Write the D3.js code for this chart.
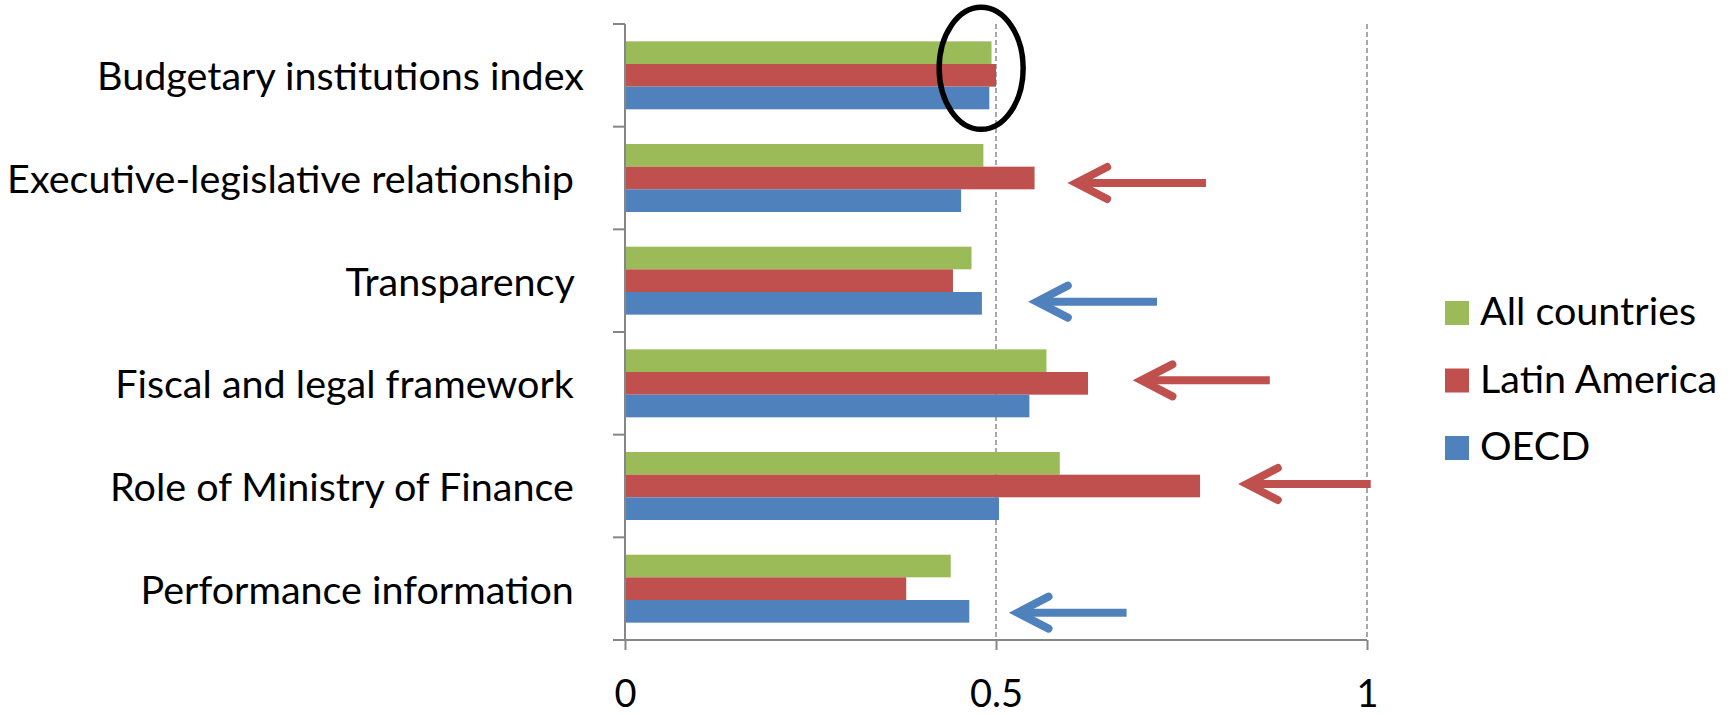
<!DOCTYPE html>
<html>
<head>
<meta charset="utf-8">
<script src="https://cdn.jsdelivr.net/npm/d3@7"></script>
<style>
  body { margin: 0; background: #fff; }
  svg { display: block; font-family: Lato, 'Open Sans', sans-serif; }
  text { white-space: pre; }
</style>
</head>
<body>
<div id="chart"></div>
<script>
// ── Data ──────────────────────────────────────────────────────────────────
const categories = [
  'Budgetary institutions index',
  'Executive-legislative relationship ',
  'Transparency ',
  'Fiscal and legal framework ',
  'Role of Ministry of Finance ',
  'Performance information '
]
const seriesNames = ['All countries', 'Latin America', 'OECD']
const allCountries = [0.494, 0.483, 0.467, 0.568, 0.586, 0.439]
const latinAmerica = [0.500, 0.552, 0.442, 0.624, 0.775, 0.379]
const oecd = [0.491, 0.453, 0.481, 0.545, 0.504, 0.464]
const xTicks = [0, 0.5, 1]

// arrows drawn next to bars: category index, colour of series, tip / tail value
const arrows = [
  { cat: 1, series: 'Latin America', tip: 0.608, tail: 0.783, dy: 5 },
  { cat: 2, series: 'OECD', tip: 0.555, tail: 0.717, dy: 21 },
  { cat: 3, series: 'Latin America', tip: 0.696, tail: 0.869, dy: -3 },
  { cat: 4, series: 'Latin America', tip: 0.838, tail: 1.005, dy: -2 },
  { cat: 5, series: 'OECD', tip: 0.529, tail: 0.676, dy: 24 }
]

const colors = { 'All countries': '#9BBB59', 'Latin America': '#C0504D', 'OECD': '#4F81BD' }
const values = { 'All countries': allCountries, 'Latin America': latinAmerica, 'OECD': oecd }

// ── Layout ────────────────────────────────────────────────────────────────
const W = 1731, H = 715
const axisColor = '#868686'
const x = d3.scaleLinear().domain([0, 1]).range([625, 1367])
const y = d3.scaleBand().domain(categories).range([24, 640]).padding(0)
const bw = y.bandwidth()
const inner = d3.scaleBand().domain(seriesNames).range([bw * 0.169, bw * 0.831])

const svg = d3.select('#chart').append('svg').attr('width', W).attr('height', H)

// gridlines
svg.append('g').selectAll('line')
  .data(xTicks.filter(d => d > 0))
  .join('line')
  .attr('x1', d => x(d)).attr('x2', d => x(d))
  .attr('y1', y.range()[0]).attr('y2', y.range()[1])
  .attr('stroke', '#8c8c8c').attr('stroke-width', 1.5).attr('stroke-dasharray', '5,3')

// bars
const rows = []
categories.forEach((c, i) => seriesNames.forEach(s => rows.push({ cat: c, series: s, value: values[s][i] })))
svg.append('g').selectAll('rect')
  .data(rows)
  .join('rect')
  .attr('x', x(0))
  .attr('y', d => y(d.cat) + inner(d.series))
  .attr('width', d => x(d.value) - x(0))
  .attr('height', inner.bandwidth())
  .attr('fill', d => colors[d.series])

// y axis
const yAxis = svg.append('g')
yAxis.append('line')
  .attr('x1', x(0)).attr('x2', x(0))
  .attr('y1', y.range()[0]).attr('y2', y.range()[1])
  .attr('stroke', axisColor).attr('stroke-width', 2)
const bounds = categories.map(c => y(c)).concat([y.range()[1]])
yAxis.selectAll('.tick')
  .data(bounds)
  .join('line')
  .attr('x1', x(0) - 12).attr('x2', x(0))
  .attr('y1', d => d).attr('y2', d => d)
  .attr('stroke', axisColor).attr('stroke-width', 2)
yAxis.selectAll('text')
  .data(categories)
  .join('text')
  .attr('x', 584)
  .attr('y', d => y(d) + bw / 2)
  .attr('dy', '0.38em')
  .attr('text-anchor', 'end')
  .style('font-size', '39.5px')
  .attr('fill', '#000')
  .text(d => d)

// x axis
const xAxis = svg.append('g').attr('transform', `translate(0,${y.range()[1]})`)
  .call(d3.axisBottom(x).tickValues(xTicks).tickFormat(d3.format('')).tickSize(10).tickPadding(30))
xAxis.select('.domain').remove()
xAxis.selectAll('.tick line').attr('stroke', axisColor).attr('stroke-width', 2)
xAxis.selectAll('.tick text').style('font-size', '38px').style('font-family', 'Lato, sans-serif').attr('fill', '#000')
xAxis.append('line')
  .attr('x1', x(0) - 12).attr('x2', x(1))
  .attr('y1', 0).attr('y2', 0)
  .attr('stroke', axisColor).attr('stroke-width', 2)

// annotation arrows
const ag = svg.append('g').attr('fill', 'none').attr('stroke-width', 8)
arrows.forEach(a => {
  const yy = y(categories[a.cat]) + bw / 2 + a.dy
  const tipX = x(a.tip), tailX = x(a.tail)
  const g = ag.append('g').attr('stroke', colors[a.series])
  g.append('line').attr('x1', tailX).attr('x2', tipX + 4).attr('y1', yy).attr('y2', yy)
  g.append('path')
    .attr('d', `M${tipX + 31},${yy - 16} L${tipX},${yy} L${tipX + 31},${yy + 16}`)
    .attr('stroke-linecap', 'round').attr('stroke-linejoin', 'miter')
})

// ellipse highlight on first category
svg.append('ellipse')
  .attr('cx', x(0.48))
  .attr('cy', y(categories[0]) + bw / 2 - 7)
  .attr('rx', 42).attr('ry', 61)
  .attr('fill', 'none').attr('stroke', '#000').attr('stroke-width', 5.5)

// legend
const leg = svg.append('g')
seriesNames.forEach((s, i) => {
  const base = 325 + i * 67.5
  leg.append('rect').attr('x', 1445).attr('y', base - 24).attr('width', 24).attr('height', 24).attr('fill', colors[s])
  leg.append('text').attr('x', 1480).attr('y', base).style('font-size', '39.5px').attr('fill', '#000').text(s)
})
</script>
</body>
</html>
